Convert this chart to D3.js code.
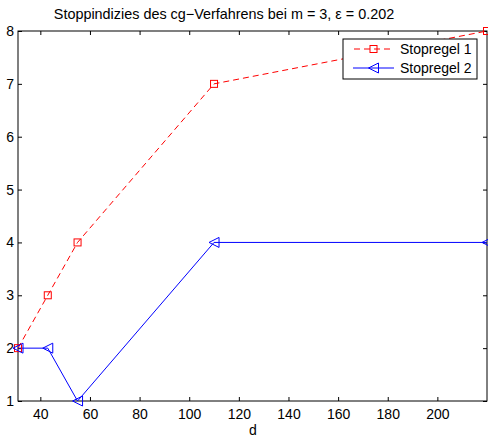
<!DOCTYPE html>
<html><head><meta charset="utf-8">
<script src="https://cdn.jsdelivr.net/npm/d3@7"></script>
<style>body{margin:0;background:#fff}svg{display:block}text{font-family:"Liberation Sans",Arial,sans-serif}</style>
</head><body>
<svg id="c" width="488" height="438"></svg>
<script>
const dValues = [31, 43, 55, 110, 220];
const stopregel1 = [2, 3, 4, 7, 8];
const stopregel2 = [2, 2, 1, 4, 4];
const xTicks = [40, 60, 80, 100, 120, 140, 160, 180, 200];
const yTicks = [1, 2, 3, 4, 5, 6, 7, 8];
const seriesNames = ["Stopregel 1", "Stopregel 2"];

const svg = d3.select("#c");
const L = 18, R = 487, T = 31, B = 401;
const x = d3.scaleLinear().domain([31, 220]).range([L, R]);
const y = d3.scaleLinear().domain([1, 8]).range([B, T]);

svg.append("rect").attr("x", L).attr("y", T).attr("width", R - L).attr("height", B - T)
  .attr("fill", "#fff").attr("stroke", "#000").attr("stroke-width", 1);

const gx = svg.append("g").attr("transform", `translate(0,${B})`)
  .call(d3.axisBottom(x).tickValues(xTicks).tickSize(-4).tickPadding(8).tickFormat(d3.format("d")));
const gxTop = svg.append("g").attr("transform", `translate(0,${T})`)
  .call(d3.axisTop(x).tickValues(xTicks).tickSize(-4).tickFormat(""));
const gy = svg.append("g").attr("transform", `translate(${L},0)`)
  .call(d3.axisLeft(y).tickValues(yTicks).tickSize(-4).tickPadding(4).tickFormat(d3.format("d")));
const gyR = svg.append("g").attr("transform", `translate(${R},0)`)
  .call(d3.axisRight(y).tickValues(yTicks).tickSize(-4).tickFormat(""));
[gx, gxTop, gy, gyR].forEach(g => {
  g.select(".domain").remove();
  g.selectAll("line").attr("stroke", "#000");
  g.selectAll("text").attr("font-size", 14).attr("fill", "#000")
    .style("font-family", '"Liberation Sans",Arial,sans-serif');
});

const line = d3.line().x((d, i) => x(dValues[i])).y(d => y(d));
const plot = svg.append("g");

plot.append("path").datum(stopregel1).attr("d", line).attr("fill", "none")
  .attr("stroke", "#ff0000").attr("stroke-width", 1).attr("stroke-dasharray", "6,4");
plot.append("path").datum(stopregel2).attr("d", line).attr("fill", "none")
  .attr("stroke", "#0000ff").attr("stroke-width", 1);

const sq = 7;
plot.selectAll(".m1").data(stopregel1).enter().append("rect")
  .attr("x", (d, i) => x(dValues[i]) - sq / 2).attr("y", d => y(d) - sq / 2)
  .attr("width", sq).attr("height", sq).attr("fill", "none").attr("stroke", "#ff0000");

function tri(cx, cy, s) {
  return `M${cx - s},${cy}L${cx + s},${cy - s}L${cx + s},${cy + s}Z`;
}
plot.selectAll(".m2").data(stopregel2).enter().append("path")
  .attr("d", (d, i) => tri(x(dValues[i]), y(d), 5))
  .attr("fill", "none").attr("stroke", "#0000ff");

svg.append("text").attr("x", 224).attr("y", 19).attr("text-anchor", "middle")
  .attr("font-size", 14.4).text("Stoppindizies des cg\u2212Verfahrens bei m = 3, \u03b5 = 0.202");
svg.append("text").attr("x", 253).attr("y", 435).attr("text-anchor", "middle")
  .attr("font-size", 14).text("d");

const lg = svg.append("g");
lg.append("rect").attr("x", 343).attr("y", 39).attr("width", 134).attr("height", 40)
  .attr("fill", "#fff").attr("stroke", "#000");
const rows = [49, 68];
lg.append("line").attr("x1", 353).attr("x2", 394).attr("y1", rows[0]).attr("y2", rows[0])
  .attr("stroke", "#ff0000").attr("stroke-dasharray", "6,4").attr("stroke-dashoffset", -1);
lg.append("rect").attr("x", 373.5 - sq / 2).attr("y", rows[0] - sq / 2).attr("width", sq).attr("height", sq)
  .attr("fill", "none").attr("stroke", "#ff0000");
lg.append("line").attr("x1", 353).attr("x2", 394).attr("y1", rows[1]).attr("y2", rows[1])
  .attr("stroke", "#0000ff");
lg.append("path").attr("d", tri(373.5, rows[1], 5)).attr("fill", "none").attr("stroke", "#0000ff");
seriesNames.forEach((n, i) => {
  lg.append("text").attr("x", 400).attr("y", rows[i] + 5).attr("font-size", 14).text(n);
});
</script>
</body></html>
